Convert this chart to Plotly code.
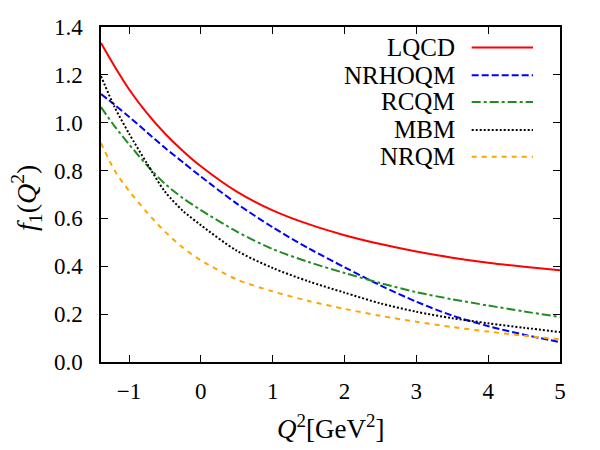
import plotly.graph_objects as go

q2 = [-1.39, -1.2, -1.0, -0.75, -0.5, -0.25, 0.0, 0.5, 1.0, 1.5, 2.0, 2.5, 3.0, 3.5, 4.0, 4.5, 5.0]

lqcd   = [1.333, 1.235, 1.14, 1.04, 0.955, 0.882, 0.818, 0.712, 0.634, 0.576, 0.530, 0.493, 0.462, 0.436, 0.415, 0.398, 0.383]
nrhoqm = [1.120, 1.075, 1.025, 0.960, 0.895, 0.835, 0.775, 0.662, 0.563, 0.475, 0.396, 0.320, 0.252, 0.194, 0.150, 0.114, 0.083]
rcqm   = [1.065, 0.985, 0.910, 0.822, 0.745, 0.685, 0.635, 0.545, 0.472, 0.418, 0.372, 0.330, 0.292, 0.262, 0.236, 0.211, 0.188]
mbm    = [1.195, 1.065, 0.955, 0.830, 0.712, 0.632, 0.572, 0.465, 0.393, 0.337, 0.290, 0.245, 0.210, 0.183, 0.162, 0.143, 0.125]
nrqm   = [0.915, 0.800, 0.715, 0.625, 0.545, 0.478, 0.425, 0.345, 0.295, 0.255, 0.222, 0.193, 0.168, 0.146, 0.127, 0.110, 0.095]

names  = ["LQCD", "NRHOQM", "RCQM", "MBM", "NRQM"]
series = [lqcd, nrhoqm, rcqm, mbm, nrqm]
colors = ["#FF0000", "#0000FF", "#228B22", "#000000", "#FFA500"]
dashes = ["solid", "7px,3px", "9px,3px,3px,3px", "2px,2px", "5px,5px"]

x_ticks = [-1, 0, 1, 2, 3, 4, 5]
y_ticks = [0.0, 0.2, 0.4, 0.6, 0.8, 1.0, 1.2, 1.4]

FONT = "Liberation Serif"

fig = go.Figure()
for n, s, c, d in zip(names, series, colors, dashes):
    fig.add_trace(go.Scatter(x=q2, y=s, mode="lines", name=n,
                             line=dict(color=c, width=2, dash=d, shape="spline", smoothing=0.8),
                             showlegend=False))

# hand-made legend: right-aligned label, sample line on the right
row_y = [0.9387, 0.8559, 0.7764, 0.6927, 0.6129]
for n, c, d, yy in zip(names, colors, dashes, row_y):
    fig.add_annotation(xref="paper", yref="paper", x=0.7756, y=yy, text=n,
                       showarrow=False, xanchor="right", yanchor="middle",
                       font=dict(family=FONT, size=25, color="black"))
    fig.add_shape(type="line", xref="paper", yref="paper",
                  x0=0.8076, x1=0.9412, y0=yy, y1=yy,
                  line=dict(color=c, width=2, dash=d))

# axis titles
fig.add_annotation(xref="paper", yref="paper", x=0.5, y=-0.194,
                   text="<i>Q</i><sup>2</sup>[GeV<sup>2</sup>]", showarrow=False,
                   xanchor="center", yanchor="middle",
                   font=dict(family=FONT, size=27, color="black"))
fig.add_annotation(xref="paper", yref="paper", x=-0.161, y=0.49,
                   text="<i>f</i><sub>1</sub>(<i>Q</i><sup>2</sup>)", showarrow=False,
                   textangle=-90, xanchor="center", yanchor="middle",
                   font=dict(family=FONT, size=28, color="black"))

axis_common = dict(showline=True, linecolor="black", linewidth=1.5, mirror="allticks",
                   ticks="inside", ticklen=7, tickwidth=1.2, tickcolor="black",
                   showgrid=False, zeroline=False,
                   tickfont=dict(family=FONT, size=23, color="black"))

fig.update_xaxes(range=[-1.39, 5], tickvals=x_ticks, ticklabelstandoff=8, **axis_common)
fig.update_yaxes(range=[0, 1.4], tickvals=y_ticks, tickformat=".1f", ticklabelstandoff=12, **axis_common)

fig.update_layout(width=600, height=450,
                  font=dict(family=FONT, color="black"),
                  margin=dict(l=101, r=40, t=27, b=88, autoexpand=False),
                  plot_bgcolor="white", paper_bgcolor="white")

fig.write_html("out.html")
